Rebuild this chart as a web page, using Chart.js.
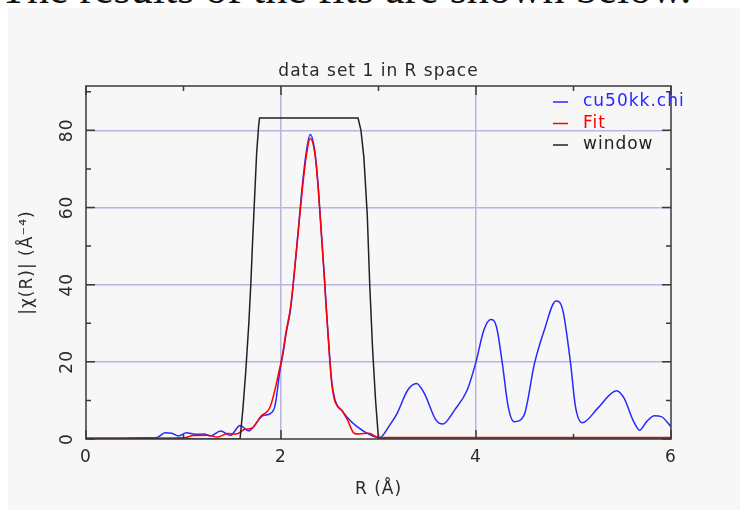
<!DOCTYPE html>
<html>
<head>
    <meta charset="utf-8"/>
    <title>data set 1 in R space</title>
    <script src="https://cdn.jsdelivr.net/npm/chart.js@4.4.1/dist/chart.umd.min.js"></script>
    <style>
        html, body { margin: 0; padding: 0; background: #fff; overflow: hidden; }
        body { width: 740px; height: 510px; position: relative; }
        .caption {
            position: absolute; left: 0; top: -33px;
            font-family: "Liberation Serif", "DejaVu Serif", serif;
            font-size: 44px; line-height: 44px; color: #111; white-space: nowrap;
        }
        .chart-container {
            position: absolute; left: 8px; top: 8px; width: 732px; height: 502px;
            background: #f7f7f7;
        }
    </style>
</head>
<body>
    <div class="caption">The results of the fits are shown below.</div>
    <div class="chart-container">
        <canvas id="myChart"></canvas>
    </div>
    <script>
        // data
        const chiR = [0, 0.3, 0.6, 0.73, 0.81, 0.88, 0.95, 1.03, 1.12, 1.21, 1.28, 1.38, 1.48, 1.58, 1.67,
            1.72, 1.81, 1.89, 1.94, 1.99, 2.02, 2.05, 2.10, 2.14, 2.18, 2.22, 2.26, 2.30, 2.35, 2.38,
            2.41, 2.44, 2.47, 2.50, 2.52, 2.55, 2.58, 2.62, 2.68, 2.78, 2.92, 3.01, 3.12, 3.19, 3.30,
            3.39, 3.47, 3.59, 3.66, 3.78, 3.91, 4.00, 4.08, 4.15, 4.21, 4.27, 4.33, 4.39, 4.49, 4.60,
            4.70, 4.82, 4.89, 4.97, 5.02, 5.09, 5.25, 5.44, 5.52, 5.61, 5.68, 5.75, 5.83, 5.90, 6.00];
        const chiMag = [0.2, 0.2, 0.3, 0.4, 1.6, 1.5, 0.8, 1.6, 1.2, 1.3, 0.8, 2.1, 0.9, 3.5, 2.1,
            3.2, 6.0, 6.6, 8.8, 17.9, 22.0, 27.0, 34.0, 44.0, 55.0, 66.0, 74.5, 78.9, 74.0, 66.0,
            55.0, 44.0, 32.0, 21.0, 15.0, 10.5, 8.5, 7.5, 5.6, 3.2, 1.0, 0.3, 3.8, 6.6, 12.7,
            14.4, 11.8, 4.9, 3.9, 7.5, 12.7, 20.0, 28.2, 31.0, 29.1, 19.6, 8.4, 4.5, 6.0, 19.6,
            28.2, 35.8, 33.4, 19.6, 8.4, 4.2, 8.0, 12.5, 10.5, 4.9, 2.3, 4.5, 6.0, 5.8, 3.2];

        const fitR = [0, 0.5, 1.0, 1.10, 1.24, 1.35, 1.45, 1.54, 1.63, 1.70, 1.79, 1.89, 1.99, 2.02, 2.05,
            2.10, 2.14, 2.18, 2.22, 2.26, 2.30, 2.35, 2.38, 2.41, 2.44, 2.47, 2.50, 2.52, 2.55, 2.58,
            2.62, 2.68, 2.75, 2.80, 2.90, 3.00, 3.5, 4.0, 4.5, 5.0, 5.5, 6.0];
        const fitMag = [0.2, 0.2, 0.3, 0.9, 1.0, 0.5, 1.4, 1.3, 2.5, 2.8, 5.8, 8.4, 18.7, 22.5, 27.5,
            34.5, 44.0, 54.5, 65.0, 73.5, 77.9, 73.5, 65.5, 54.5, 43.5, 31.5, 20.5, 14.5, 10.0, 8.5,
            7.5, 5.0, 1.5, 1.3, 1.5, 0.4, 0.4, 0.4, 0.4, 0.4, 0.4, 0.4];

        const winR = [0, 1.58, 1.61, 1.64, 1.67, 1.69, 1.71, 1.73, 1.75, 1.77, 1.78,
            2.79, 2.82, 2.85, 2.885, 2.91, 2.94, 2.97, 3.00, 6.0];
        const winMag = [0, 0, 8, 18, 30, 40, 52, 63, 74, 81, 83.2,
            83.2, 80, 73, 58, 40, 23, 10, 0, 0];

        const seriesLabels = ['cu50kk.chi', 'Fit', 'window'];
        const xTicks = [0, 2, 4, 6];
        const yTicks = [0, 20, 40, 60, 80];

        const toPoints = (xs, ys) => xs.map((x, i) => ({x: x, y: ys[i]}));

        const gridColor = 'rgb(182,182,226)';
        const inkColor = '#2a2a2a';
        const labelFont = {family: 'DejaVu Sans', size: 17, weight: 'normal', lineHeight: 1.2};

        // the plot font is wide, so space the letters out a bit
        const wideText = {
            id: 'wideText',
            beforeDraw(chart) { chart.ctx.letterSpacing = '1px'; },
            afterDraw(chart) { chart.ctx.letterSpacing = '0px'; }
        };

        // box round the plot with inward tick marks
        const frameTicks = {
            id: 'frameTicks',
            afterDatasetsDraw(chart) {
                const {ctx, chartArea: a, scales: {x, y}} = chart;
                ctx.save();
                ctx.strokeStyle = '#3a3a3a';
                ctx.lineWidth = 1.5;
                ctx.strokeRect(a.left, a.top, a.right - a.left, a.bottom - a.top);
                ctx.beginPath();
                for (let v = x.min; v <= x.max; v += 1) {
                    const px = x.getPixelForValue(v);
                    const len = xTicks.includes(v) ? 9 : 5;
                    ctx.moveTo(px, a.bottom); ctx.lineTo(px, a.bottom - len);
                    ctx.moveTo(px, a.top); ctx.lineTo(px, a.top + len);
                }
                for (let v = 0; v <= y.max; v += 10) {
                    const py = y.getPixelForValue(v);
                    const len = yTicks.includes(v) ? 9 : 5;
                    ctx.moveTo(a.left, py); ctx.lineTo(a.left + len, py);
                    ctx.moveTo(a.right, py); ctx.lineTo(a.right - len, py);
                }
                ctx.stroke();
                ctx.restore();
            }
        };

        // legend inside the top right corner, text in the line colour
        const cornerLegend = {
            id: 'cornerLegend',
            afterDatasetsDraw(chart) {
                const {ctx, chartArea: a} = chart;
                ctx.save();
                ctx.font = '17px "DejaVu Sans"';
                ctx.letterSpacing = '1px';
                ctx.textBaseline = 'middle';
                chart.data.datasets.forEach((ds, i) => {
                    const yy = a.top + 16 + i * 21.5;
                    ctx.strokeStyle = ds.borderColor;
                    ctx.lineWidth = 1.5;
                    ctx.beginPath();
                    ctx.moveTo(a.right - 118, yy);
                    ctx.lineTo(a.right - 103, yy);
                    ctx.stroke();
                    ctx.fillStyle = ds.borderColor;
                    ctx.fillText(ds.label, a.right - 88, yy);
                });
                ctx.restore();
            }
        };

        const ctx = document.getElementById('myChart').getContext('2d');
        let myChart = new Chart(ctx, {
            type: 'line',
            data: {
                datasets: [{
                    label: seriesLabels[0],
                    data: toPoints(chiR, chiMag),
                    borderColor: 'rgb(40,40,255)',
                    borderWidth: 1.5,
                    cubicInterpolationMode: 'monotone',
                    order: 3,
                }, {
                    label: seriesLabels[1],
                    data: toPoints(fitR, fitMag),
                    borderColor: 'rgb(255,0,0)',
                    borderWidth: 1.5,
                    cubicInterpolationMode: 'monotone',
                    order: 2,
                }, {
                    label: seriesLabels[2],
                    data: toPoints(winR, winMag),
                    borderColor: 'rgb(34,34,34)',
                    borderWidth: 1.5,
                    tension: 0,
                    order: 1,
                }]
            },
            options: {
                responsive: true,
                maintainAspectRatio: false,
                animation: false,
                layout: {padding: {left: 9, right: 0, top: 0, bottom: 0}},
                elements: {point: {radius: 0}},
                plugins: {
                    legend: {display: false},
                    tooltip: {enabled: false},
                    title: {
                        display: true,
                        text: 'data set 1 in R space',
                        color: inkColor,
                        font: labelFont,
                        padding: {top: 53.8, bottom: 3.8}
                    }
                },
                scales: {
                    x: {
                        type: 'linear',
                        min: 0,
                        max: 6,
                        afterBuildTicks: (scale) => { scale.ticks = xTicks.map(v => ({value: v})); },
                        afterFit: (scale) => { scale.height = 71; },
                        border: {display: false},
                        grid: {
                            drawTicks: false,
                            lineWidth: 1.5,
                            color: (c) => (c.tick && (c.tick.value === 0 || c.tick.value === 6)) ? 'transparent' : gridColor
                        },
                        ticks: {color: inkColor, font: labelFont, padding: 8, maxRotation: 0},
                        title: {display: true, text: 'R (Å)', color: inkColor, font: labelFont, padding: {top: 4, bottom: 9.8}}
                    },
                    y: {
                        min: 0,
                        max: 91.5,
                        afterBuildTicks: (scale) => { scale.ticks = yTicks.map(v => ({value: v})); },
                        afterFit: (scale) => { scale.width = 69; },
                        border: {display: false},
                        grid: {
                            drawTicks: false,
                            lineWidth: 1.5,
                            color: (c) => (c.tick && c.tick.value === 0) ? 'transparent' : gridColor
                        },
                        ticks: {color: inkColor, font: labelFont, padding: 8, minRotation: 90, maxRotation: 90, crossAlign: 'center'},
                        title: {display: true, text: '|χ(R)| (Å⁻⁴)', color: inkColor, font: labelFont, padding: {top: 0, bottom: 4}}
                    },
                    // empty axis on the right, only to leave room for the legend text
                    yRight: {
                        position: 'right',
                        min: 0,
                        max: 91.5,
                        afterFit: (scale) => { scale.width = 69; },
                        border: {display: false},
                        grid: {drawOnChartArea: false, drawTicks: false},
                        ticks: {display: false}
                    }
                }
            },
            plugins: [wideText, frameTicks, cornerLegend]
        });
    </script>
</body>
</html>
